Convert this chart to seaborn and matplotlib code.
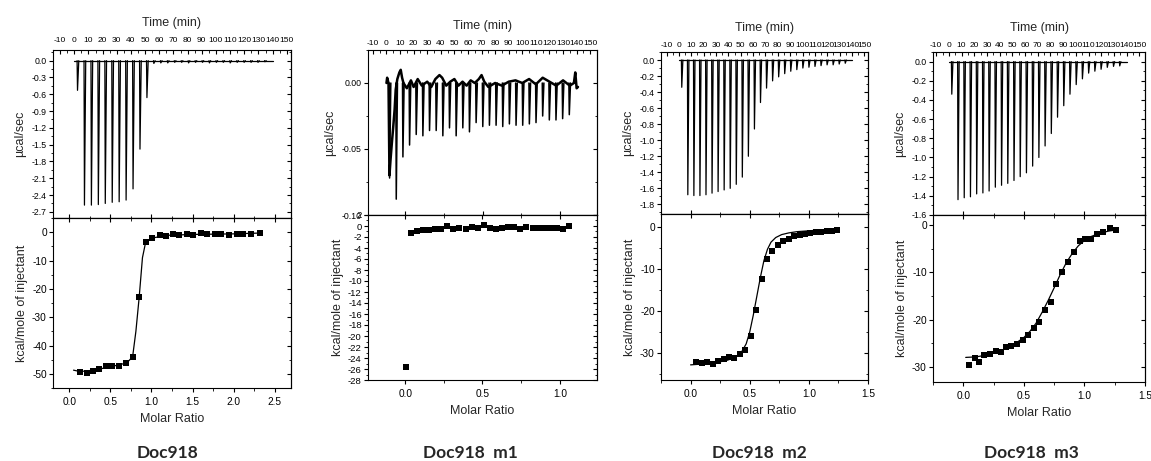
import numpy as np
import pandas as pd
import matplotlib
matplotlib.use("Agg")
import matplotlib.pyplot as plt
from matplotlib.ticker import MultipleLocator, FormatStrFormatter
import seaborn as sns

# injection times (min), same protocol in all four runs
inj_min = [2.0, 6.9, 11.8, 16.7, 21.6, 26.5, 31.4, 36.3, 41.2, 46.1, 51.0, 55.9, 60.8, 65.7,
           70.6, 75.5, 80.4, 85.3, 90.2, 95.1, 100.0, 104.9, 109.8, 114.7, 119.6, 124.5, 129.4, 134.3]

# raw thermogram peak heights (ucal/sec)
peaks_wt = [-0.53, -2.58, -2.58, -2.57, -2.55, -2.53, -2.52, -2.49, -2.29, -1.58, -0.66, -0.05, -0.04, -0.04,
            -0.03, -0.03, -0.04, -0.03, -0.03, -0.04, -0.03, -0.03, -0.04, -0.03, -0.03, -0.03, -0.03, -0.02]
peaks_m1 = [-0.072, -0.088, -0.056, -0.047, -0.039, -0.040, -0.036, -0.036, -0.040, -0.034, -0.040, -0.034, -0.037, -0.030,
            -0.033, -0.032, -0.032, -0.033, -0.031, -0.032, -0.032, -0.031, -0.030, -0.025, -0.028, -0.028, -0.027, -0.024]
peaks_m2 = [-0.34, -1.68, -1.69, -1.69, -1.68, -1.66, -1.64, -1.62, -1.60, -1.55, -1.46, -1.20, -0.86, -0.53,
            -0.35, -0.26, -0.21, -0.17, -0.14, -0.12, -0.10, -0.09, -0.08, -0.07, -0.06, -0.06, -0.05, -0.04]
peaks_m3 = [-0.34, -1.44, -1.42, -1.41, -1.38, -1.37, -1.35, -1.31, -1.29, -1.27, -1.24, -1.20, -1.16, -1.09,
            -1.00, -0.88, -0.75, -0.58, -0.46, -0.34, -0.24, -0.18, -0.12, -0.10, -0.08, -0.06, -0.05, -0.045]

# m1 baseline is noisy / drifting, read by eye
m1_base_t = [0.0, 0.5, 1.5, 2.2, 3.0, 4.0, 5.0, 6.0, 6.8, 8.0, 9.5, 10.5, 11.5, 12.5, 15, 18, 20, 23, 26, 30, 33,
             36, 39, 41, 44, 47, 50, 53, 56, 59, 62, 65, 68, 70, 72, 75, 80, 85, 90, 95, 100, 105, 110, 115,
             120, 125, 130, 135, 138, 139, 140, 141]
m1_base_y = [0.0, 0.004, 0.0, -0.070, -0.058, -0.045, -0.033, -0.020, -0.005, 0.003, 0.008, 0.010, 0.004, 0.0,
             -0.004, 0.002, -0.003, 0.003, -0.002, 0.001, -0.003, 0.003, 0.006, 0.004, -0.002, 0.001, 0.003,
             -0.002, 0.001, -0.002, 0.002, 0.0, 0.003, 0.006, 0.001, -0.003, 0.0, -0.002, 0.001, 0.002, 0.0,
             0.003, -0.001, 0.004, 0.001, -0.002, 0.002, -0.002, 0.0, 0.008, -0.004, -0.003]

# integrated heats (kcal/mole of injectant) vs molar ratio
ratio_wt = [0.13, 0.21, 0.29, 0.36, 0.44, 0.52, 0.61, 0.69, 0.77, 0.85, 0.93, 1.01, 1.10, 1.18,
            1.26, 1.34, 1.43, 1.51, 1.60, 1.68, 1.77, 1.85, 1.94, 2.04, 2.12, 2.21, 2.32]
heat_wt = [-49.4, -49.8, -48.9, -48.4, -47.4, -47.2, -47.1, -46.2, -44.2, -22.9, -3.5, -2.1, -1.1, -1.4,
           -0.7, -0.9, -0.6, -0.9, -0.4, -0.8, -0.7, -0.6, -0.9, -0.5, -0.7, -0.6, -0.2]
fit_wt_x = [0.05, 0.13, 0.3, 0.5, 0.65, 0.72, 0.77, 0.81, 0.85, 0.89, 0.93, 1.0, 1.2, 1.5, 2.0, 2.33]
fit_wt_y = [-48.7, -49.2, -48.7, -47.5, -46.5, -45.5, -44.0, -35.0, -23.0, -9.0, -3.4, -2.1, -1.1, -0.8, -0.6, -0.3]

ratio_m1 = [0.004, 0.036, 0.075, 0.115, 0.154, 0.194, 0.233, 0.272, 0.312, 0.351, 0.391, 0.430, 0.469, 0.509,
            0.548, 0.587, 0.627, 0.666, 0.706, 0.745, 0.784, 0.824, 0.863, 0.903, 0.942, 0.981, 1.021, 1.060]
heat_m1 = [-25.7, -1.2, -1.0, -0.8, -0.7, -0.6, -0.6, 0.0, -0.6, -0.3, -0.5, -0.1, -0.4, 0.1,
           -0.4, -0.5, -0.3, -0.2, -0.2, -0.5, -0.2, -0.4, -0.3, -0.3, -0.4, -0.3, -0.5, 0.0]

ratio_m2 = [0.05, 0.096, 0.142, 0.188, 0.233, 0.279, 0.325, 0.371, 0.417, 0.463, 0.508, 0.554, 0.600, 0.646,
            0.692, 0.738, 0.783, 0.829, 0.875, 0.921, 0.967, 1.013, 1.058, 1.104, 1.150, 1.196, 1.242]
heat_m2 = [-32.1, -32.4, -32.1, -32.5, -31.9, -31.4, -31.0, -31.2, -30.2, -29.3, -26.0, -19.7, -12.3, -7.5,
           -5.6, -4.2, -3.4, -2.9, -2.2, -2.0, -1.6, -1.5, -1.3, -1.1, -1.0, -0.9, -0.8]
fit_m2_x = [0.0, 0.1, 0.2, 0.3, 0.38, 0.43, 0.47, 0.50, 0.53, 0.56, 0.59, 0.62, 0.65, 0.68, 0.72, 0.77,
            0.83, 0.9, 1.0, 1.1, 1.25]
fit_m2_y = [-32.8, -32.6, -32.3, -31.8, -31.0, -29.8, -27.8, -25.0, -21.0, -16.5, -12.0, -8.0, -5.3, -3.6,
            -2.5, -1.8, -1.4, -1.1, -0.9, -0.7, -0.5]

ratio_m3 = [0.047, 0.097, 0.133, 0.175, 0.222, 0.267, 0.311, 0.353, 0.397, 0.442, 0.489, 0.533, 0.581, 0.628,
            0.675, 0.722, 0.767, 0.814, 0.861, 0.911, 0.961, 1.008, 1.056, 1.103, 1.156, 1.208, 1.258]
heat_m3 = [-29.7, -28.2, -28.9, -27.4, -27.2, -26.6, -26.9, -25.9, -25.5, -25.1, -24.3, -23.2, -21.7, -20.5,
           -18.0, -16.2, -12.5, -10.0, -7.9, -5.8, -3.5, -3.0, -3.0, -1.9, -1.4, -0.7, -1.1]
fit_m3_x = [0.02, 0.1, 0.2, 0.3, 0.4, 0.5, 0.55, 0.6, 0.65, 0.7, 0.75, 0.8, 0.85, 0.9, 0.95, 1.0, 1.05,
            1.1, 1.15, 1.2, 1.25]
fit_m3_y = [-28.0, -27.9, -27.5, -26.7, -25.6, -23.8, -22.5, -20.8, -18.5, -16.0, -13.3, -10.5, -8.0, -6.0,
            -4.4, -3.3, -2.5, -2.0, -1.6, -1.3, -1.1]

titles = ["Doc918", "Doc918  m1", "Doc918  m2", "Doc918  m3"]

sns.set_style("white")
plt.rcParams["font.family"] = ["Liberation Sans", "DejaVu Sans"]
plt.rcParams["axes.unicode_minus"] = False
plt.rcParams["axes.edgecolor"] = "black"
plt.rcParams["axes.linewidth"] = 0.8
plt.rcParams["xtick.color"] = "black"
plt.rcParams["ytick.color"] = "black"

W, H = 1151, 461
fig = plt.figure(figsize=(W / 100, H / 100), dpi=100)


def box(l, r, t, b):
    return [l / W, 1 - b / H, (r - l) / W, (b - t) / H]


def spikes(peaks):
    # one drop + recovery per injection, kept as separate units
    rows = []
    for k, (t, p) in enumerate(zip(inj_min, peaks)):
        rows += [(k, t, 0.0), (k, t + 0.3, p), (k, t + 1.2, 0.0)]
    return pd.DataFrame(rows, columns=["inj", "t", "q"])


def yticks(ax, major, minor, fmt, size):
    ax.yaxis.set_major_locator(MultipleLocator(major))
    ax.yaxis.set_minor_locator(MultipleLocator(minor))
    ax.yaxis.set_major_formatter(FormatStrFormatter(fmt))
    ax.tick_params(axis="y", which="both", left=True, right=False, direction="out", labelsize=size, pad=1.5)
    ax.tick_params(axis="y", which="major", length=3)
    ax.tick_params(axis="y", which="minor", length=1.8)
    sec = ax.secondary_yaxis("right")
    sec.yaxis.set_major_locator(MultipleLocator(major))
    sec.yaxis.set_minor_locator(MultipleLocator(minor))
    sec.tick_params(axis="y", which="both", direction="in", labelright=False)
    sec.tick_params(axis="y", which="major", length=3)
    sec.tick_params(axis="y", which="minor", length=1.8)


panels = [
    dict(x=(53, 291), y=(50, 218, 388), tlim=(-15, 153), tylim=(-2.81, 0.19), tstep=(0.3, 0.15), tfmt="%.1f",
         bylim=(-55, 5), bstep=(10, 5), rlim=(-0.2, 2.7), rstep=0.5, ms=16, tpad=4.5,
         peaks=peaks_wt, ratio=ratio_wt, heat=heat_wt, fit=(fit_wt_x, fit_wt_y), cx=168),
    dict(x=(368, 597), y=(50, 215, 380), tlim=(-13.6, 155), tylim=(-0.10, 0.025), tstep=(0.05, 0.025), tfmt="%.2f",
         bylim=(-28, 2), bstep=(2, 1), rlim=(-0.24, 1.24), rstep=0.5, ms=16, tpad=2.5,
         peaks=peaks_m1, ratio=ratio_m1, heat=heat_m1, fit=None, cx=470),
    dict(x=(661, 868), y=(52, 214, 380), tlim=(-14.5, 153), tylim=(-1.92, 0.1), tstep=(0.2, 0.1), tfmt="%.1f",
         bylim=(-36.4, 3.1), bstep=(10, 5), rlim=(-0.25, 1.5), rstep=0.5, ms=20, tpad=2.5,
         peaks=peaks_m2, ratio=ratio_m2, heat=heat_m2, fit=(fit_m2_x, fit_m2_y), cx=759),
    dict(x=(933, 1145), y=(52, 215, 382), tlim=(-12.5, 154.5), tylim=(-1.6, 0.1), tstep=(0.2, 0.1), tfmt="%.1f",
         bylim=(-33.2, 2.1), bstep=(10, 5), rlim=(-0.25, 1.5), rstep=0.5, ms=20, tpad=2.5,
         peaks=peaks_m3, ratio=ratio_m3, heat=heat_m3, fit=(fit_m3_x, fit_m3_y), cx=1031),
]

for i, p in enumerate(panels):
    l, r = p["x"]
    t, m, b = p["y"]
    ax_t = fig.add_axes(box(l, r, t, m))
    ax_b = fig.add_axes(box(l, r, m, b))

    # --- raw thermogram ---
    sp = spikes(p["peaks"])
    if i == 1:
        sns.lineplot(x=m1_base_t, y=m1_base_y, sort=False, estimator=None, color="black", lw=1.8, ax=ax_t)
        sns.lineplot(data=sp, x="t", y="q", units="inj", estimator=None, sort=False,
                     color="black", lw=1.1, ax=ax_t)
    else:
        sns.lineplot(x=[0.0, 140.0], y=[0.0, 0.0], color="black", lw=0.9, ax=ax_t)
        sns.lineplot(data=sp, x="t", y="q", units="inj", estimator=None, sort=False,
                     color="black", lw=0.9, ax=ax_t)
    ax_t.set_xlim(*p["tlim"])
    ax_t.set_ylim(*p["tylim"])
    ax_t.xaxis.tick_top()
    ax_t.xaxis.set_label_position("top")
    ax_t.set_xticks(np.arange(-10, 151, 10))
    ax_t.xaxis.set_minor_locator(MultipleLocator(5))
    ax_t.tick_params(axis="x", which="both", top=True, bottom=False, direction="in",
                     labeltop=True, labelbottom=False, labelsize=6.0, pad=p["tpad"])
    ax_t.tick_params(axis="x", which="major", length=3)
    ax_t.tick_params(axis="x", which="minor", length=1.8)
    ax_t.set_xlabel("Time (min)", fontsize=9, labelpad=7.5)
    ax_t.set_ylabel("µcal/sec", fontsize=9, labelpad=4)
    ax_t.set_xlabel("Time (min)", fontsize=9, labelpad=7.5)
    yticks(ax_t, p["tstep"][0], p["tstep"][1], p["tfmt"], 6.3)

    # bottom edge of the thermogram carries molar-ratio ticks
    t0, t1 = p["tlim"]
    r0, r1 = p["rlim"]
    fwd = lambda v, t0=t0, t1=t1, r0=r0, r1=r1: r0 + (v - t0) * (r1 - r0) / (t1 - t0)
    inv = lambda v, t0=t0, t1=t1, r0=r0, r1=r1: t0 + (v - r0) * (t1 - t0) / (r1 - r0)
    sx = ax_t.secondary_xaxis("bottom", functions=(fwd, inv))
    sx.xaxis.set_major_locator(MultipleLocator(p["rstep"]))
    sx.xaxis.set_minor_locator(MultipleLocator(p["rstep"] / 2))
    sx.tick_params(axis="x", which="both", direction="in", labelbottom=False)
    sx.tick_params(axis="x", which="major", length=3)
    sx.tick_params(axis="x", which="minor", length=1.8)

    # --- integrated heats ---
    if p["fit"] is not None:
        sns.lineplot(x=p["fit"][0], y=p["fit"][1], sort=False, estimator=None, color="black", lw=0.9, ax=ax_b)
    sns.scatterplot(x=p["ratio"], y=p["heat"], marker="s", s=p["ms"], color="black",
                    edgecolor="black", linewidth=0, zorder=3, ax=ax_b)
    ax_b.set_xlim(*p["rlim"])
    ax_b.set_ylim(*p["bylim"])
    ax_b.xaxis.set_major_locator(MultipleLocator(p["rstep"]))
    ax_b.xaxis.set_minor_locator(MultipleLocator(p["rstep"] / 2))
    ax_b.xaxis.set_major_formatter(FormatStrFormatter("%.1f"))
    ax_b.tick_params(axis="x", which="both", bottom=True, top=False, direction="out", labelsize=7.3, pad=3.5)
    ax_b.tick_params(axis="x", which="major", length=3)
    ax_b.tick_params(axis="x", which="minor", length=1.8)
    st = ax_b.secondary_xaxis("top")
    st.xaxis.set_major_locator(MultipleLocator(p["rstep"]))
    st.xaxis.set_minor_locator(MultipleLocator(p["rstep"] / 2))
    st.tick_params(axis="x", which="both", direction="in", labeltop=False)
    st.tick_params(axis="x", which="major", length=3)
    st.tick_params(axis="x", which="minor", length=1.8)
    yticks(ax_b, p["bstep"][0], p["bstep"][1], "%d", 7.3 if i != 1 else 6.8)
    ax_b.set_xlabel("Molar Ratio", fontsize=9, labelpad=4.5)
    ax_b.set_ylabel("kcal/mole of injectant", fontsize=9, labelpad=3)

    fig.text(p["cx"] / W, 1 - 453 / H, titles[i], ha="center", va="center", fontsize=12.5,
             fontweight="bold", family=["Lato", "DejaVu Sans"])

fig.savefig("out.png", dpi=100)
